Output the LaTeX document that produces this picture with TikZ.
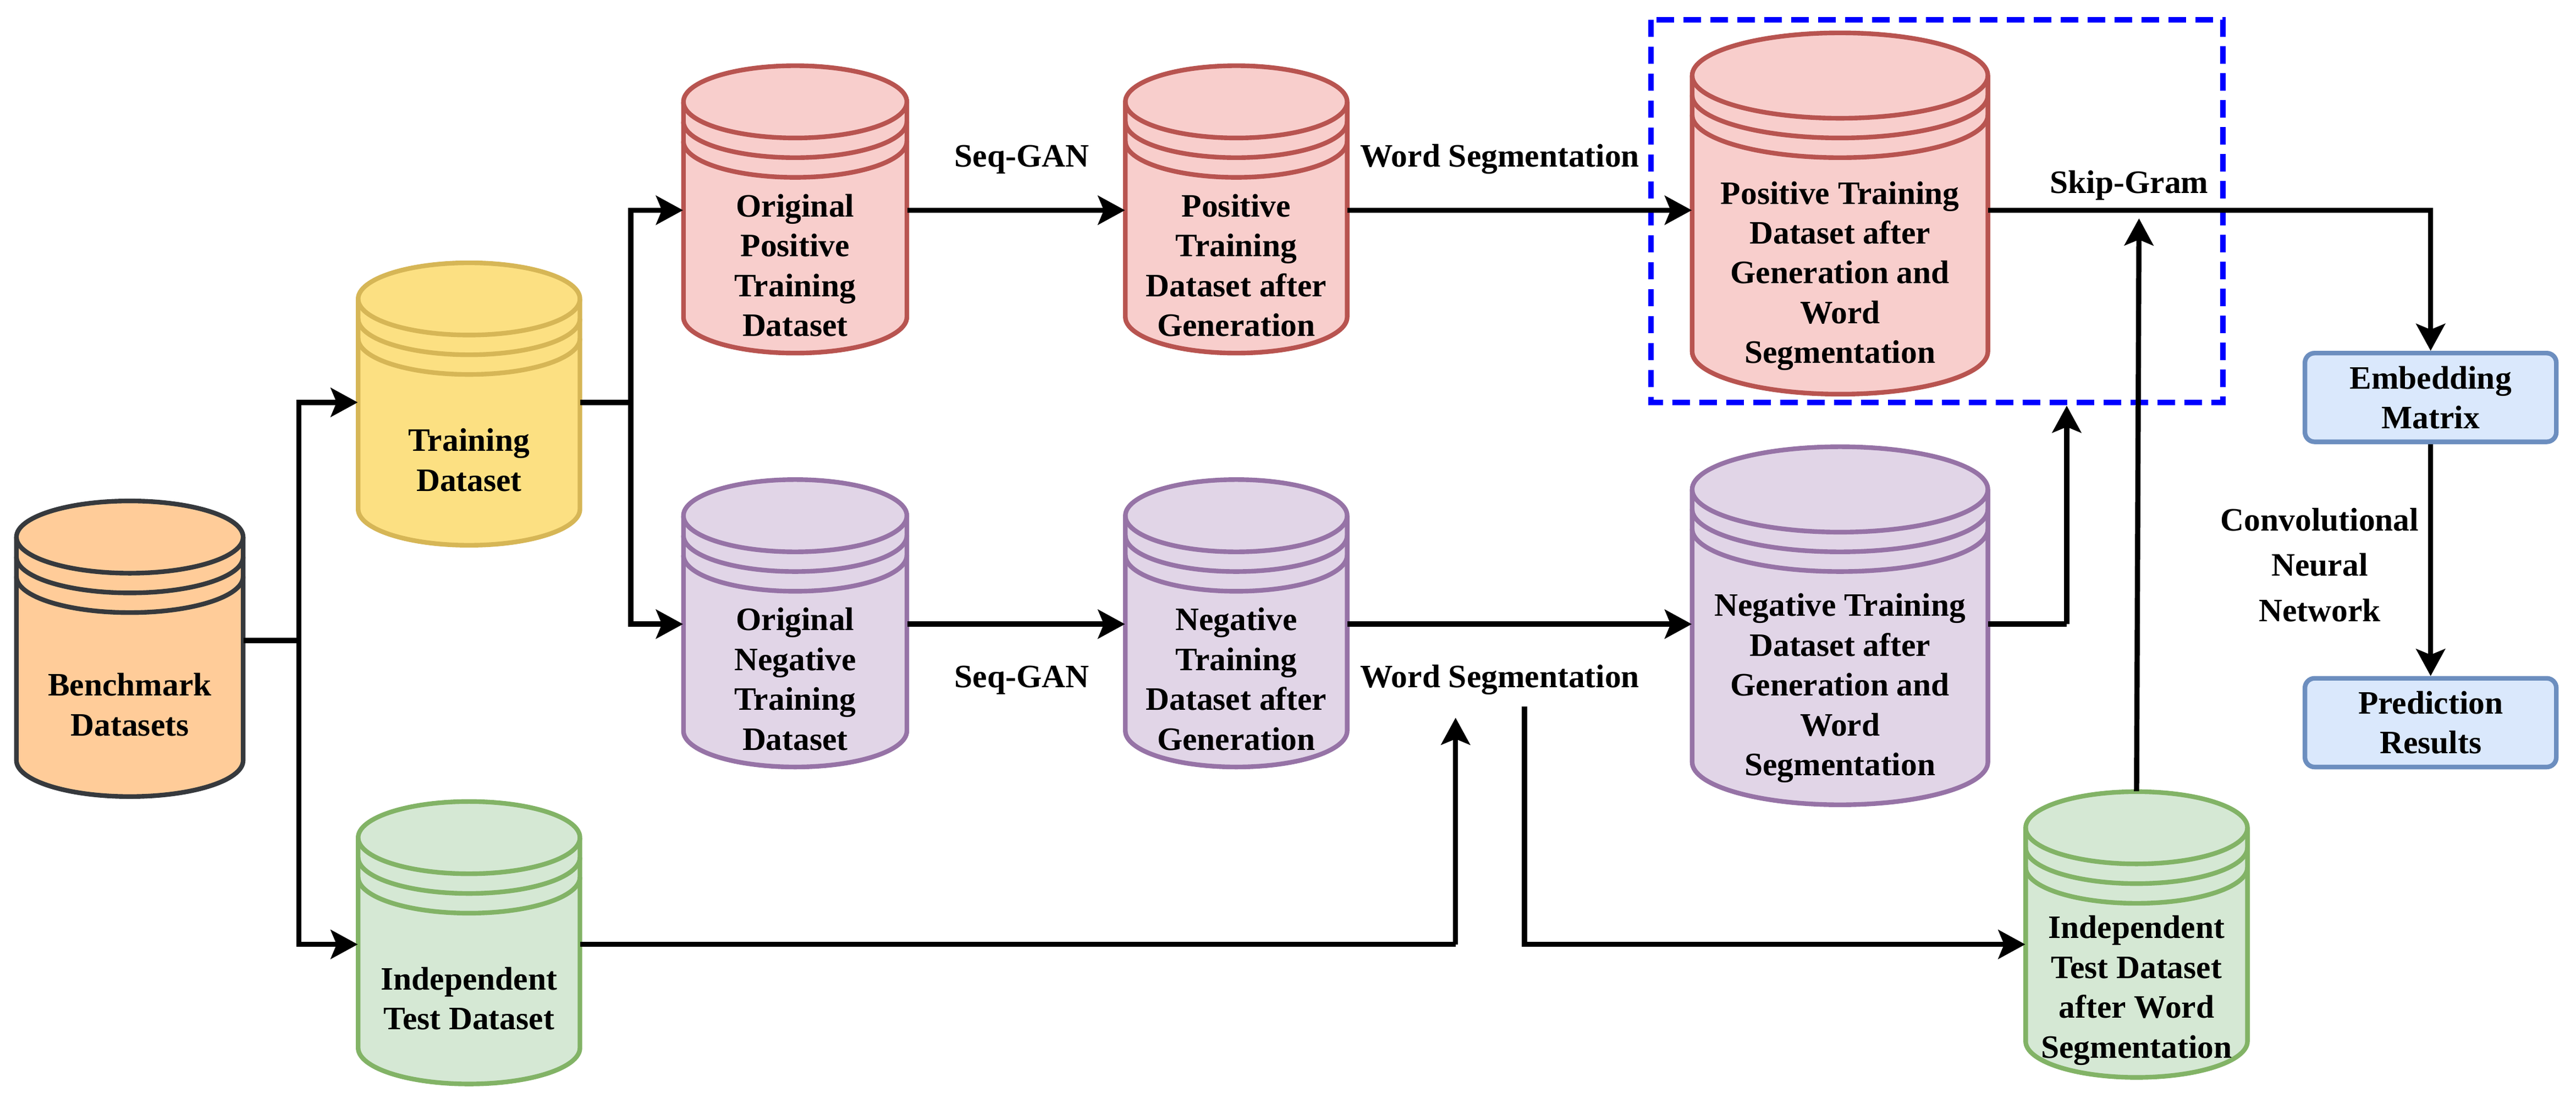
\documentclass[tikz,border=0pt]{standalone}
\usepackage{fontspec}
\setmainfont{Liberation Serif}
\usetikzlibrary{arrows.meta}
\definecolor{rF}{HTML}{F8CECC}\definecolor{rD}{HTML}{B85450}
\definecolor{yF}{HTML}{FCE082}\definecolor{yD}{HTML}{D6B656}
\definecolor{oF}{HTML}{FFCC99}\definecolor{oD}{HTML}{36393D}
\definecolor{pF}{HTML}{E1D5E7}\definecolor{pD}{HTML}{9673A6}
\definecolor{gF}{HTML}{D5E8D4}\definecolor{gD}{HTML}{82B366}
\definecolor{bF}{HTML}{DAE8FC}\definecolor{bD}{HTML}{6C8EBF}
\newcommand{\mycyl}[9]{% name x1 y1 x2 y2 fill draw ry text
  \pgfmathsetmacro{\cxa}{#2}\pgfmathsetmacro{\cxb}{#4}
  \pgfmathsetmacro{\cya}{#3}\pgfmathsetmacro{\cyb}{#5}
  \pgfmathsetmacro{\rx}{(\cxb-\cxa)/2}\pgfmathsetmacro{\cx}{(\cxa+\cxb)/2}
  \pgfmathsetmacro{\ry}{#8}
  \path[cyl,fill=#6,draw=#7] (\cxa,\cya+\ry) -- (\cxa,\cyb-\ry) arc[start angle=180,end angle=360,x radius=\rx,y radius=-\ry] -- (\cxb,\cya+\ry) arc[start angle=0,end angle=180,x radius=\rx,y radius=-\ry] -- cycle;
  \draw[cyl,draw=#7] (\cxa,\cya+\ry) arc[start angle=180,end angle=360,x radius=\rx,y radius=-\ry];
  \draw[cyl,draw=#7] (\cxa,\cya+\ry+12) arc[start angle=180,end angle=360,x radius=\rx,y radius=-\ry];
  \draw[cyl,draw=#7] (\cxa,\cya+\ry+24) arc[start angle=180,end angle=360,x radius=\rx,y radius=-\ry];
  \node[inner sep=0,minimum width={(\cxb-\cxa)*0.3mm},minimum height={(\cyb-\cya)*0.3mm}] (#1) at (\cx,{(\cya+\cyb)/2}) {};
  \node[lbl] (#1-t) at (\cx,{(\cya+2*\ry+24+\cyb)/2}) {#9};
}
\begin{document}
\begin{tikzpicture}[x=0.03cm,y=-0.03cm,
  cyl/.style={line width=2.4pt},
  lbl/.style={font=\fontsize{17}{20.7}\selectfont\bfseries,align=center,inner sep=0},
  arr/.style={line width=2.7pt,-{Stealth[length=14pt,width=15pt,inset=3pt]}},
  ln/.style={line width=2.7pt},
  box/.style={draw=bD,fill=bF,line width=2.4pt,rounded corners=5pt,minimum width=153*0.3mm,minimum height=54*0.3mm,inner sep=0,font=\fontsize{17}{20.7}\selectfont\bfseries,align=center}]
\useasboundingbox (0,0) rectangle (1568,672);
\draw[blue,line width=2.8pt,dash pattern=on 9pt off 5pt] (1005,12) rectangle (1353,245);
\mycyl{bench}{10}{305}{148}{485}{oF}{oD}{22}{Benchmark\\Datasets}
\mycyl{train}{218}{160}{353}{332}{yF}{yD}{22}{Training\\Dataset}
\mycyl{indep}{218}{488}{353}{660}{gF}{gD}{22}{Independent\\Test Dataset}
\mycyl{opos}{416}{40}{552}{215}{rF}{rD}{22}{Original\\Positive\\Training\\Dataset}
\mycyl{pgen}{685}{40}{820}{215}{rF}{rD}{22}{Positive\\Training\\Dataset after\\Generation}
\mycyl{oneg}{416}{292}{552}{467}{pF}{pD}{22}{Original\\Negative\\Training\\Dataset}
\mycyl{ngen}{685}{292}{820}{467}{pF}{pD}{22}{Negative\\Training\\Dataset after\\Generation}
\mycyl{pws}{1030}{20}{1210}{240}{rF}{rD}{26}{Positive Training\\Dataset after\\Generation and\\Word\\Segmentation}
\mycyl{nws}{1030}{272}{1210}{490}{pF}{pD}{26}{Negative Training\\Dataset after\\Generation and\\Word\\Segmentation}
\mycyl{iws}{1233}{482}{1368}{656}{gF}{gD}{22}{Independent\\Test Dataset\\after Word\\Segmentation}
\node[box] (emb) at (1479.5,242) {Embedding\\Matrix};
\node[box] (pred) at (1479.5,440) {Prediction\\Results};
% connectors
\coordinate (b1) at (182,390);
\coordinate (t1) at (384,245);
\draw[ln] (bench.east|-b1) -- (b1);
\draw[arr] (b1) |- (train.west|-0,245);
\draw[arr] (b1) |- (indep.west|-0,575);
\draw[ln] (train.east|-t1) -- (t1);
\draw[arr] (t1) |- (opos.west|-0,128);
\draw[arr] (t1) |- (oneg.west|-0,380);
\draw[arr] (opos.east|-0,128) -- (pgen.west|-0,128);
\draw[arr] (oneg.east|-0,380) -- (ngen.west|-0,380);
\draw[arr] (pgen.east|-0,128) -- (pws.west|-0,128);
\draw[arr] (ngen.east|-0,380) -- (nws.west|-0,380);
\node[lbl] (sg1) at (622,97) {Seq-GAN};
\node[lbl] (sg2) at (622,414) {Seq-GAN};
\node[lbl] (ws1) at (913,97) {Word Segmentation};
\node[lbl] (ws2) at (913,414) {Word Segmentation};
\coordinate (i1) at (886,575);
\draw[ln] (indep.east|-i1) -- (i1);
\draw[arr] (i1) -- (886,437);
\coordinate (w1) at (928,430);
\draw[arr] (w1) |- (iws.west|-0,575);
\coordinate (n1) at (1258,380);
\draw[ln] (nws.east|-n1) -- (n1);
\draw[arr] (n1) -- (1258,247);
\draw[arr] (iws.north) -- (1302,133);
\draw[arr] (pws.east|-0,128) -| (emb.north);
\node[lbl] (skip) at (1296,113) {Skip-Gram};
\draw[arr] (emb.south) -- (pred.north);
\node[lbl,font=\fontsize{17}{23.5}\selectfont\bfseries] (cnn) at (1412,344) {Convolutional\\Neural\\Network};
\end{tikzpicture}
\end{document}
